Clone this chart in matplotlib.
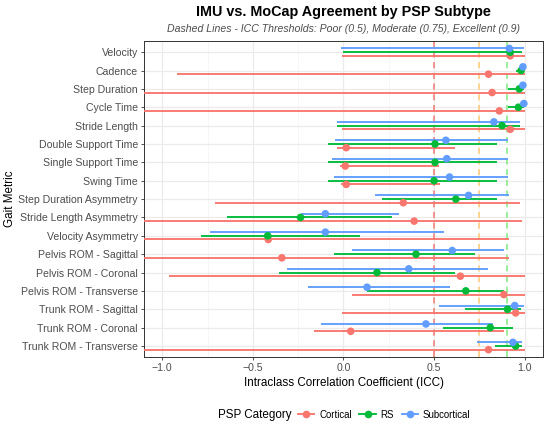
import numpy as np
import matplotlib
matplotlib.use("Agg")
import matplotlib.pyplot as plt
from matplotlib.lines import Line2D

plt.rcParams['font.family'] = ['Liberation Sans', 'DejaVu Sans']

metrics = ["Velocity", "Cadence", "Step Duration", "Cycle Time", "Stride Length",
           "Double Support Time", "Single Support Time", "Swing Time",
           "Step Duration Asymmetry", "Stride Length Asymmetry", "Velocity Asymmetry",
           "Pelvis ROM - Sagittal", "Pelvis ROM - Coronal", "Pelvis ROM - Transverse",
           "Trunk ROM - Sagittal", "Trunk ROM - Coronal", "Trunk ROM - Transverse"]

# ICC estimates and 95% CI per PSP category
cortical_icc = [0.92, 0.80, 0.82, 0.86, 0.92, 0.015, 0.01, 0.015, 0.33, 0.39, -0.415,
                -0.34, 0.645, 0.885, 0.95, 0.04, 0.80]
cortical_lo = [-0.01, -0.92, -1.3, -1.3, -0.01, -0.035, -0.02, -0.015, -0.71, -1.3, -1.3,
               -1.3, -0.965, 0.045, -0.01, -0.165, -1.3]
cortical_hi = [1.0, 1.0, 1.0, 1.0, 1.0, 0.615, 0.525, 0.535, 0.975, 0.985, 0.915,
               0.915, 1.0, 1.0, 1.0, 0.885, 1.0]

rs_icc = [0.92, 0.98, 0.97, 0.965, 0.875, 0.505, 0.505, 0.50, 0.62, -0.237, -0.418,
          0.40, 0.185, 0.675, 0.905, 0.81, 0.95]
rs_lo = [-0.005, 0.95, 0.905, 0.905, -0.035, -0.085, -0.085, -0.085, 0.215, -0.645, -0.785,
         -0.055, -0.355, 0.128, 0.668, 0.548, 0.837]
rs_hi = [0.985, 0.995, 0.995, 0.995, 0.975, 0.845, 0.845, 0.845, 0.845, 0.265, 0.093,
         0.727, 0.617, 0.886, 0.977, 0.937, 0.986]

sub_icc = [0.915, 0.99, 0.99, 0.995, 0.83, 0.565, 0.57, 0.585, 0.69, -0.10, -0.10,
           0.60, 0.36, 0.13, 0.945, 0.455, 0.935]
sub_lo = [-0.015, 0.985, 0.985, 0.99, -0.035, -0.045, -0.065, -0.055, 0.175, -0.232, -0.738,
          0.046, -0.314, -0.195, 0.528, -0.126, 0.736]
sub_hi = [0.995, 0.995, 0.995, 1.0, 0.975, 0.905, 0.905, 0.905, 0.915, 0.307, 0.557,
          0.886, 0.796, 0.586, 0.997, 0.827, 0.986]

categories = ["Cortical", "RS", "Subcortical"]
colors = ["#F8766D", "#00BA38", "#619CFF"]
thresholds = [0.5, 0.75, 0.9]
threshold_colors = ["#EE7A72", "#FFC872", "#7FEA7F"]

fig = plt.figure(figsize=(5.5, 4.24), dpi=100)
ax = fig.add_axes([0.262, 0.158, 0.725, 0.745])

n = len(metrics)
ypos = np.arange(n)[::-1]
series = [(cortical_icc, cortical_lo, cortical_hi),
          (rs_icc, rs_lo, rs_hi),
          (sub_icc, sub_lo, sub_hi)]
offsets = [-0.2, 0.0, 0.2]

for t, tc in zip(thresholds, threshold_colors):
    ax.axvline(t, color=tc, lw=1.1, ls=(0, (4, 3)), zorder=2)

for (icc, lo, hi), col, off in zip(series, colors, offsets):
    y = ypos + off
    ax.hlines(y, lo, hi, color=col, lw=1.35, zorder=3)
    ax.scatter(icc, y, s=30, color=col, zorder=4, edgecolors='none')

ax.set_xlim(-1.1, 1.1)
ax.set_ylim(-0.6, n - 1 + 0.6)
ax.set_yticks(ypos)
ax.set_yticklabels(metrics)
ax.set_xticks([-1.0, -0.5, 0.0, 0.5, 1.0])
ax.set_xticklabels(["\u22121.0", "\u22120.5", "0.0", "0.5", "1.0"])
ax.set_xticks([-0.75, -0.25, 0.25, 0.75], minor=True)
ax.grid(True, which='major', color='#EBEBEB', lw=0.9, zorder=0)
ax.grid(True, which='minor', axis='x', color='#F3F3F3', lw=0.5, zorder=0)
ax.set_axisbelow(True)
ax.tick_params(axis='both', which='major', labelsize=7.6, colors='#333333',
               labelcolor='#4D4D4D', length=2.5, width=0.6, pad=2)
ax.tick_params(which='minor', length=0)
for s in ax.spines.values():
    s.set_color('#333333')
    s.set_linewidth(0.7)

ax.set_xlabel("Intraclass Correlation Coefficient (ICC)", fontsize=8.4, labelpad=3)
ax.set_ylabel("Gait Metric", fontsize=8.4)
ax.yaxis.set_label_coords(-0.322, 0.5)

fig.text(0.625, 0.972, "IMU vs. MoCap Agreement by PSP Subtype", ha='center', va='center',
         fontsize=10.4, fontweight='bold')
fig.text(0.625, 0.931, "Dashed Lines - ICC Thresholds: Poor (0.5), Moderate (0.75), Excellent (0.9)",
         ha='center', va='center', fontsize=7.6, style='italic', color='#4D4D4D')

# legend: title on the left, entries in one row
fig.text(218 / 550, 0.022, "PSP Category", ha='left', va='center', fontsize=8.4)
handles = [Line2D([0], [0], color=c, lw=1.35, marker='o', markersize=5.5, markeredgecolor='none')
           for c in colors]
fig.legend(handles, categories, loc='center left', bbox_to_anchor=(298 / 550, 0.022), ncol=3,
           frameon=False, fontsize=6.9, handlelength=1.7, handletextpad=0.5,
           columnspacing=0.8, borderpad=0, borderaxespad=0)
fig.savefig("out.png", dpi=100)
